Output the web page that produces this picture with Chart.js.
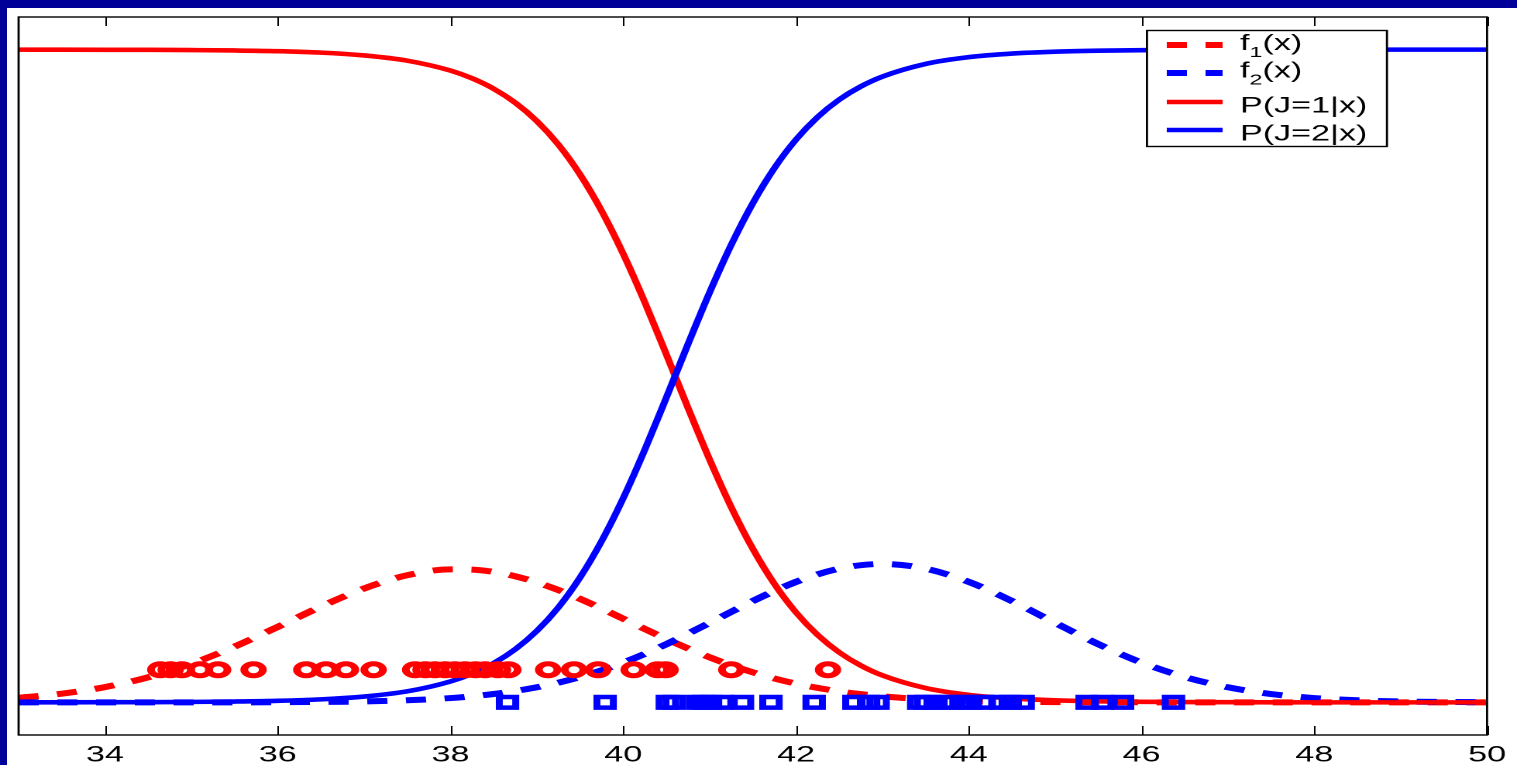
<!DOCTYPE html>
<html>
<head>
<meta charset="utf-8">
<script src="https://cdn.jsdelivr.net/npm/chart.js@4.4.1/dist/chart.umd.min.js"></script>
<style>
  html,body{margin:0;padding:0;background:#fff;overflow:hidden;width:1517px;height:765px;}
  /* the original figure is stretched sideways, so the chart is drawn narrow and scaled */
  #wrap{position:absolute;left:0;top:0;width:979px;height:765px;transform:scaleX(1.5495);transform-origin:0 0;}
  .band{position:absolute;background:#000099;}
</style>
</head>
<body>
<div id="wrap"><canvas id="c" width="979" height="765"></canvas></div>
<div class="band" style="left:0;top:0;width:1517px;height:8px"></div>
<div class="band" style="left:0;top:0;width:7px;height:765px"></div>
<script>
// ---- data (finer steps where the curves are steep) ----
const xGrid = [33,33.5,34,34.5,35,35.5,36,36.5,37,37.5,38,
               38.25,38.5,38.75,39,39.25,39.5,39.75,40,40.25,40.5,40.75,41,41.25,41.5,41.75,42,42.25,42.5,42.75,43,
               43.5,44,44.5,45,45.5,46,46.5,47,47.5,48,48.5,49,49.5,50];
// f1(x), red dashed
const f1 = [0.0071,0.0133,0.0234,0.0384,0.0591,0.0854,0.1156,0.1467,0.1745,0.1948,0.2037,
            0.2034,0.1998,0.1932,0.1838,0.1720,0.1585,0.1436,0.1281,0.1124,0.0971,0.0825,0.0690,0.0568,0.0460,
            0.0366,0.0287,0.0222,0.0168,0.0126,0.0092,
            0.0048,0.0023,0.0010,0.0004,0.0002,0.0001,0,0,0,0,0,0,0,0];
// f2(x), blue dashed
const f2 = [0,0,0,0,0,0,0.0002,0.0006,0.0014,0.0032,0.0066,
            0.0093,0.0128,0.0174,0.0231,0.0302,0.0389,0.0491,0.0609,0.0744,0.0892,0.1052,0.1218,0.1387,0.1552,
            0.1707,0.1846,0.1961,0.2048,0.2102,0.2120,
            0.2048,0.1846,0.1552,0.1218,0.0892,0.0609,0.0389,0.0231,0.0128,0.0066,0.0032,0.0014,0.0006,0.0002];
// P(J=1|x), red solid
const p1 = [1,0.9999,0.9998,0.9997,0.9993,0.9987,0.9976,0.9954,0.9911,0.9831,0.9679,
            0.9560,0.9400,0.9186,0.8905,0.8543,0.8086,0.7528,0.6870,0.6127,0.5327,0.4510,0.3719,0.2991,0.2352,
            0.1814,0.1378,0.1033,0.0766,0.0564,0.0413,
            0.0219,0.0115,0.0060,0.0031,0.0016,0.0008,0.0004,0.0002,0.0001,0,0,0,0,0];
// P(J=2|x), blue solid
const p2 = [0,0.0001,0.0002,0.0003,0.0007,0.0013,0.0024,0.0046,0.0089,0.0169,0.0321,
            0.0440,0.0600,0.0814,0.1095,0.1457,0.1914,0.2472,0.3130,0.3873,0.4673,0.5490,0.6281,0.7009,0.7648,
            0.8186,0.8622,0.8967,0.9234,0.9436,0.9587,
            0.9781,0.9885,0.9940,0.9969,0.9984,0.9992,0.9996,0.9998,0.9999,1,1,1,1,1];
// samples of class 1 (circles) and class 2 (squares)
const circlesX = [34.64,34.76,34.89,35.10,35.31,35.72,36.33,36.56,36.79,37.11,37.59,37.71,37.82,37.94,38.05,
                  38.17,38.29,38.40,38.55,38.67,39.13,39.43,39.71,40.12,40.40,40.49,41.25,42.37];
const circleY = 0.05;
const squaresX = [38.66,39.79,40.51,40.59,40.86,40.93,41.01,41.15,41.38,41.71,42.21,42.67,42.84,42.95,
                  43.42,43.50,43.62,43.76,43.91,44.02,44.17,44.37,44.48,44.63,45.37,45.55,45.78,46.37];
const squareY = 0;
const xTicks = [34,36,38,40,42,44,46,48,50];
const seriesLabels = ['f_1(x)','f_2(x)','P(J=1|x)','P(J=2|x)'];

const RED = '#ff0000', BLUE = '#0000ff';
const FONT = '"Liberation Sans", Arial, Helvetica, sans-serif';

function pts(xs, ys){ return xs.map((x,i)=>({x:x, y:ys[i]})); }
function flat(xs, y){ return xs.map(x=>({x:x, y:y})); }

const lineBase = {pointRadius:0, cubicInterpolationMode:'monotone', fill:false, borderCapStyle:'butt'};

// frame, inward ticks and the boxed legend
const framePlugin = {
  id:'frame',
  afterDraw(chart){
    const ctx = chart.ctx, a = chart.chartArea, xs = chart.scales.x;
    ctx.save();
    ctx.strokeStyle = '#000';
    ctx.lineWidth = 1;
    xTicks.forEach(v=>{
      const px = Math.round(xs.getPixelForValue(v)) + 0.5;
      ctx.beginPath();
      ctx.moveTo(px, a.bottom); ctx.lineTo(px, a.bottom - 9);
      ctx.moveTo(px, a.top); ctx.lineTo(px, a.top + 9);
      ctx.stroke();
    });
    ctx.lineWidth = 1.4;
    ctx.strokeRect(a.left, a.top, a.right - a.left, a.bottom - a.top);

    // legend
    const box = {l:740.2, t:30.5, r:895.1, b:146.5};
    const rows = [{ly:45, ty:50}, {ly:73, ty:77.5}, {ly:102, ty:112.5}, {ly:130, ty:140.5}];
    ctx.fillStyle = '#fff';
    ctx.fillRect(box.l, box.t, box.r - box.l, box.b - box.t);
    ctx.lineWidth = 1.4;
    ctx.strokeRect(box.l, box.t, box.r - box.l, box.b - box.t);
    rows.forEach((row,i)=>{
      const ds = chart.data.datasets[i];
      ctx.beginPath();
      ctx.strokeStyle = ds.borderColor;
      ctx.lineWidth = ds.borderWidth;
      ctx.setLineDash(ds.borderDash || []);
      ctx.moveTo(753, row.ly); ctx.lineTo(789, row.ly);
      ctx.stroke();
      ctx.setLineDash([]);
      ctx.fillStyle = '#000';
      ctx.textBaseline = 'alphabetic';
      ctx.textAlign = 'left';
      const m = ds.label.match(/^(.*)_(\d)(.*)$/);
      let tx = 800.3;
      if(m){
        ctx.font = '22px ' + FONT;
        ctx.fillText(m[1], tx, row.ty); tx += ctx.measureText(m[1]).width;
        ctx.font = '15px ' + FONT;
        ctx.fillText(m[2], tx, row.ty + 7); tx += ctx.measureText(m[2]).width;
        ctx.font = '22px ' + FONT;
        ctx.fillText(m[3], tx, row.ty);
      } else {
        ctx.font = '22px ' + FONT;
        ctx.fillText(ds.label, tx, row.ty);
      }
    });
    ctx.restore();
  }
};

new Chart(document.getElementById('c'), {
  type:'line',
  data:{
    datasets:[
      Object.assign({label:seriesLabels[0], data:pts(xGrid,f1), borderColor:RED, borderWidth:6, borderDash:[13,12], order:4}, lineBase),
      Object.assign({label:seriesLabels[1], data:pts(xGrid,f2), borderColor:BLUE, borderWidth:6, borderDash:[13,12], order:3}, lineBase),
      Object.assign({label:seriesLabels[2], data:pts(xGrid,p1), borderColor:RED, borderWidth:4.6, order:2}, lineBase),
      Object.assign({label:seriesLabels[3], data:pts(xGrid,p2), borderColor:BLUE, borderWidth:4.6, order:1}, lineBase),
      {label:'class 1', data:flat(circlesX,circleY), showLine:false, pointStyle:'circle', pointRadius:6,
       pointBorderWidth:5, pointBorderColor:RED, pointBackgroundColor:'rgba(0,0,0,0)', borderColor:RED, order:0},
      {label:'class 2', data:flat(squaresX,squareY), showLine:false, pointStyle:'rect', pointRadius:7.5,
       pointBorderWidth:4.5, pointBorderColor:BLUE, pointBackgroundColor:'rgba(0,0,0,0)', borderColor:BLUE, order:0}
    ]
  },
  options:{
    responsive:false,
    devicePixelRatio:2,
    animation:false,
    events:[],
    layout:{padding:{left:11, right:19.3, top:17, bottom:0}},
    plugins:{legend:{display:false}, tooltip:{enabled:false}},
    scales:{
      x:{
        type:'linear', min:33, max:50,
        afterBuildTicks:s=>{ s.ticks = xTicks.map(v=>({value:v})); },
        afterFit:s=>{ s.height = 30; },
        grid:{display:false, drawTicks:false},
        border:{display:false},
        ticks:{color:'#000', padding:7, maxRotation:0, font:{family:FONT, size:22}}
      },
      y:{type:'linear', min:-0.05, max:1.05, display:false}
    }
  },
  plugins:[framePlugin]
});
</script>
</body>
</html>
